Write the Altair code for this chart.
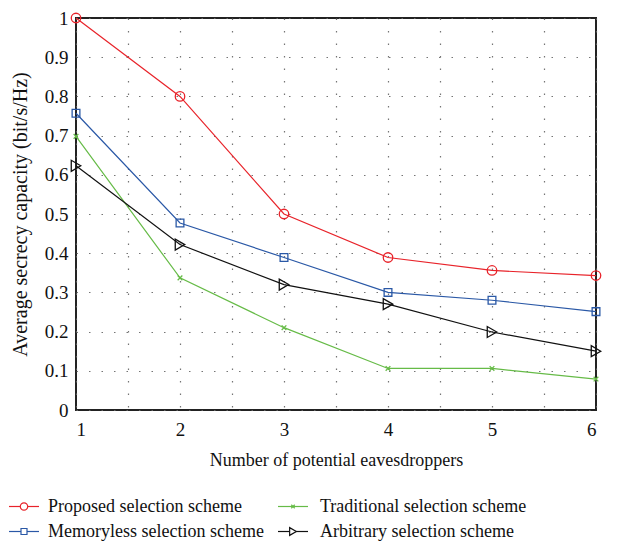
import altair as alt
import pandas as pd

# ---- data ----
eaves = [1, 2, 3, 4, 5, 6]
series_names = [
    "Proposed selection scheme",
    "Memoryless selection scheme",
    "Traditional selection scheme",
    "Arbitrary selection scheme",
]
proposed = [1.0, 0.80, 0.50, 0.389, 0.356, 0.343]
memoryless = [0.757, 0.477, 0.389, 0.30, 0.28, 0.251]
traditional = [0.698, 0.337, 0.21, 0.106, 0.106, 0.079]
arbitrary = [0.623, 0.422, 0.32, 0.27, 0.199, 0.15]

colors = ["#e8232a", "#2a58a6", "#66bb47", "#111111"]
x_path = "M-1,-1L1,1M-1,1L1,-1"
shapes = ["circle", "square", x_path, "triangle-right"]
sizes = [90, 60, 22, 120]
legend_sizes = [55, 36, 12, 60]

x_ticks = [1, 1.5, 2, 2.5, 3, 3.5, 4, 4.5, 5, 5.5, 6]
y_ticks = [0, 0.1, 0.2, 0.3, 0.4, 0.5, 0.6, 0.7, 0.8, 0.9, 1]

# legend layout (2 columns x 2 rows)
legend_col = [0, 0, 1, 1]
legend_row = [0, 1, 0, 1]

FONT = "Liberation Serif"

rows = []
for name, vals in zip(series_names, [proposed, memoryless, traditional, arbitrary]):
    for xv, yv in zip(eaves, vals):
        rows.append({"series": name, "x": xv, "y": yv})
df = pd.DataFrame(rows)

color_scale = alt.Scale(domain=series_names, range=colors)

x_enc = alt.X(
    "x:Q",
    scale=alt.Scale(domain=[1, 6], nice=False),
    axis=alt.Axis(
        values=x_ticks,
        format="~g",
        labelExpr="datum.value % 1 == 0 ? datum.label : ''",
        labelOverlap=False,
        title="Number of potential eavesdroppers",
        titleFontSize=18,
        grid=True,
        ticks=False,
        domain=False,
        labelPadding=10,
        titlePadding=12,
    ),
)
y_enc = alt.Y(
    "y:Q",
    scale=alt.Scale(domain=[0, 1], nice=False),
    axis=alt.Axis(
        values=y_ticks,
        format="~g",
        labelOverlap=False,
        title="Average secrecy capacity (bit/s/Hz)",
        titleFontSize=20,
        grid=True,
        ticks=False,
        domain=False,
        labelPadding=8,
        titlePadding=14,
    ),
)

base = alt.Chart(df).encode(
    x=x_enc,
    y=y_enc,
    color=alt.Color("series:N", scale=color_scale, legend=None),
)
layers = [base.mark_line(strokeWidth=1.2).encode(detail="series:N")]
for name, shp, sz in zip(series_names, shapes, sizes):
    layers.append(
        base.transform_filter(alt.datum.series == name).mark_point(
            filled=False, shape=shp, size=sz, strokeWidth=1.3, opacity=1
        )
    )
main = alt.layer(*layers).properties(width=520, height=392)

# ---- manual legend with line + marker symbols ----
leg_df = pd.DataFrame(
    {"series": series_names, "col": legend_col, "row": legend_row}
)
leg_base = alt.Chart(leg_df).transform_calculate(
    x0="datum.col * 269 - 67",
    x1="datum.col * 269 - 37",
    xm="datum.col * 269 - 52",
    xt="datum.col * 272 - 28",
)
lx = alt.Scale(domain=[0, 520], nice=False)
ly = alt.Scale(domain=[-0.5, 1.5], nice=False, reverse=True)
leg_layers = [
    leg_base.mark_rule(strokeWidth=1.2).encode(
        x=alt.X("x0:Q", scale=lx, axis=None),
        x2="x1:Q",
        y=alt.Y("row:Q", scale=ly, axis=None),
        color=alt.Color("series:N", scale=color_scale, legend=None),
    )
]
for name, shp, sz in zip(series_names, shapes, legend_sizes):
    leg_layers.append(
        leg_base.transform_filter(alt.datum.series == name)
        .mark_point(filled=False, fill="white", shape=shp, size=sz, strokeWidth=1.2, opacity=1)
        .encode(
            x=alt.X("xm:Q", scale=lx, axis=None),
            y=alt.Y("row:Q", scale=ly, axis=None),
            color=alt.Color("series:N", scale=color_scale, legend=None),
        )
    )
leg_layers.append(
    leg_base.mark_text(
        align="left", baseline="middle", font=FONT, fontSize=18, color="#111111"
    ).encode(
        x=alt.X("xt:Q", scale=lx, axis=None),
        y=alt.Y("row:Q", scale=ly, axis=None),
        text="series:N",
    )
)
legend = alt.layer(*leg_layers).properties(
    width=520, height=50, view=alt.ViewBackground(stroke=None)
)

chart = (
    alt.vconcat(main, legend, spacing=24)
    .properties(padding={"left": 0, "top": 0, "right": 5, "bottom": 0})
    .configure_view(stroke="#222222", strokeWidth=2)
    .configure_axis(
        labelFont=FONT,
        titleFont=FONT,
        labelFontSize=19,
        labelOverlap=False,
        titleFontWeight="normal",
        labelColor="#111111",
        titleColor="#111111",
        gridColor="#666666",
        gridDash=[1.5, 11],
        gridWidth=1.2,
        gridOpacity=0.9,
    )
)

chart.save("out.html", embed_options={"renderer": "svg", "actions": False})
